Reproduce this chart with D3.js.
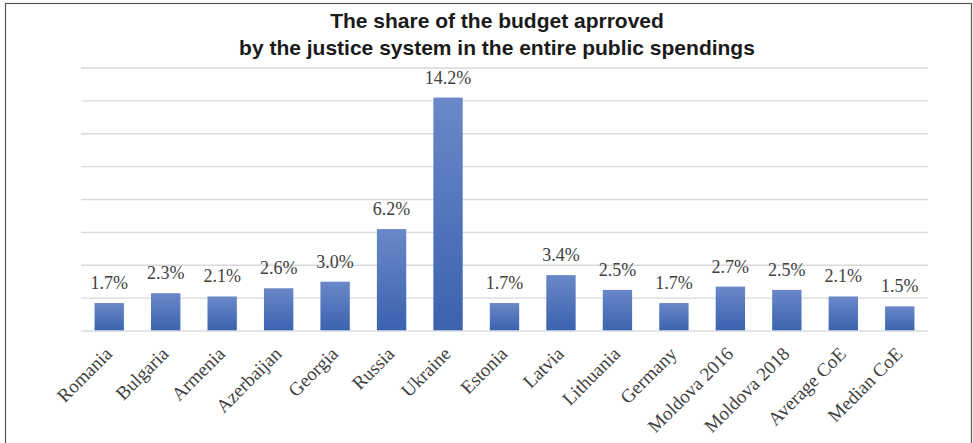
<!DOCTYPE html>
<html>
<head>
<meta charset="utf-8">
<script src="https://cdnjs.cloudflare.com/ajax/libs/d3/7.8.5/d3.min.js"></script>
<style>
  html, body { margin: 0; padding: 0; background: #fff; }
  .title { font-family: "Liberation Sans Narrow", "Liberation Sans", sans-serif; font-weight: bold; font-size: 21px; fill: #1a1a1a; }
  .value { font-family: "Liberation Serif", "DejaVu Serif", serif; font-size: 18px; fill: #404040; }
  .cat { font-family: "Liberation Serif", "DejaVu Serif", serif; font-size: 19px; fill: #404040; }
</style>
</head>
<body>
<script>
// data
var countries = ["Romania", "Bulgaria", "Armenia", "Azerbaijan", "Georgia", "Russia", "Ukraine",
  "Estonia", "Latvia", "Lithuania", "Germany", "Moldova 2016", "Moldova 2018", "Average CoE", "Median CoE"];
var shares = [1.7, 2.3, 2.1, 2.6, 3.0, 6.2, 14.2, 1.7, 3.4, 2.5, 1.7, 2.7, 2.5, 2.1, 1.5];
var gridTicks = [0, 2, 4, 6, 8, 10, 12, 14, 16];
var titleLines = ["The share of the budget aprroved", "by the justice system in the entire public spendings"];

var W = 973, H = 443;
var margin = {top: 68, right: 45, bottom: 112, left: 81};
var width = W - margin.left - margin.right;
var height = H - margin.top - margin.bottom;

var svg = d3.select("body").append("svg")
    .attr("width", W)
    .attr("height", H);

// outer frame
svg.append("rect")
    .attr("x", 5.5).attr("y", 3.5)
    .attr("width", 966).attr("height", 445)
    .attr("fill", "none")
    .attr("stroke", "#595959")
    .attr("stroke-width", 1.2);

var grad = svg.append("defs").append("linearGradient")
    .attr("id", "barGrad")
    .attr("x1", 0).attr("y1", 0).attr("x2", 0).attr("y2", 1);
grad.append("stop").attr("offset", "0%").attr("stop-color", "#6a88c9");
grad.append("stop").attr("offset", "100%").attr("stop-color", "#3a62ae");

// title
svg.selectAll(".title")
    .data(titleLines)
    .enter().append("text")
    .attr("class", "title")
    .attr("x", 497)
    .attr("y", function(d, i) { return 28 + i * 27; })
    .attr("text-anchor", "middle")
    .text(function(d) { return d; });

var x = d3.scaleBand().domain(countries).range([0, width]).paddingInner(0.48).paddingOuter(0.24);
var y = d3.scaleLinear().domain([0, 16]).range([height, 0]);

var g = svg.append("g")
    .attr("transform", "translate(" + margin.left + "," + margin.top + ")");

// gridlines
g.selectAll(".grid")
    .data(gridTicks.slice(1))
    .enter().append("line")
    .attr("x1", 0).attr("x2", width)
    .attr("y1", function(d) { return y(d); })
    .attr("y2", function(d) { return y(d); })
    .attr("stroke", "#d9d9d9")
    .attr("stroke-width", 1.3);

// bars
g.selectAll(".bar")
    .data(shares)
    .enter().append("rect")
    .attr("x", function(d, i) { return x(countries[i]); })
    .attr("y", function(d) { return y(d); })
    .attr("width", x.bandwidth())
    .attr("height", function(d) { return y(0) - y(d); })
    .attr("fill", "url(#barGrad)");

// base axis line
g.append("line")
    .attr("x1", 0).attr("x2", width)
    .attr("y1", y(0)).attr("y2", y(0))
    .attr("stroke", "#d9dde5")
    .attr("stroke-width", 1.5);

// value labels
g.selectAll(".value")
    .data(shares)
    .enter().append("text")
    .attr("class", "value")
    .attr("x", function(d, i) { return x(countries[i]) + x.bandwidth() / 2; })
    .attr("y", function(d) { return y(d) - 14; })
    .attr("text-anchor", "middle")
    .text(function(d) { return d.toFixed(1) + "%"; });

// category labels
g.selectAll(".cat")
    .data(countries)
    .enter().append("text")
    .attr("class", "cat")
    .attr("text-anchor", "end")
    .attr("transform", function(d) {
      return "translate(" + (x(d) + x.bandwidth() / 2 + 4) + "," + (y(0) + 24) + ") rotate(-45)";
    })
    .text(function(d) { return d; });
</script>
</body>
</html>
